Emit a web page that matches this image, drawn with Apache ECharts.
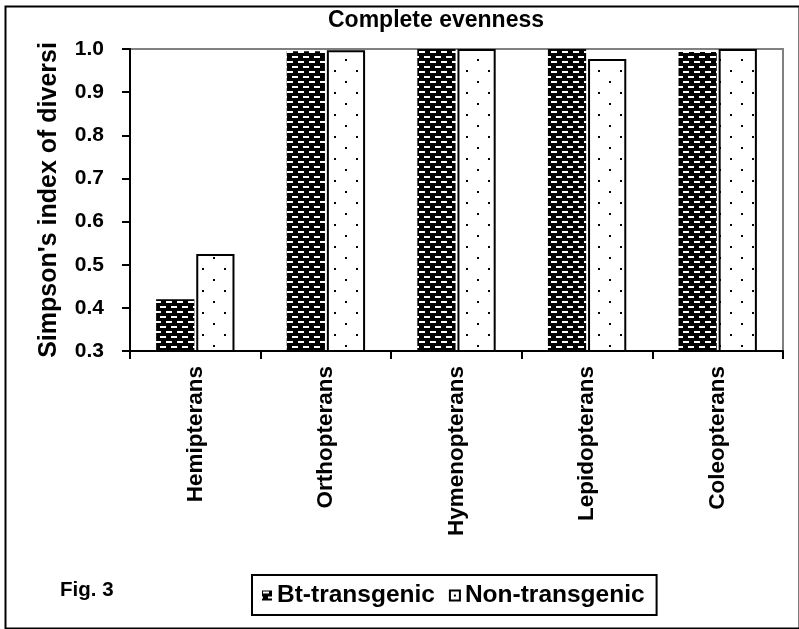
<!DOCTYPE html>
<html>
<head>
<meta charset="utf-8">
<script src="https://cdn.jsdelivr.net/npm/echarts@6/dist/echarts.min.js"></script>
<style>
html,body{margin:0;padding:0;background:#fff;}
#chart{width:799px;height:629px;}
</style>
</head>
<body>
<div id="chart"></div>
<script>
var categories = ['Hemipterans', 'Orthopterans', 'Hymenopterans', 'Lepidopterans', 'Coleopterans'];
var btTransgenic = [0.42, 0.995, 1.0, 1.0, 0.993];
var nonTransgenic = [0.525, 0.997, 1.0, 0.977, 1.0];
var yTicks = [0.3, 0.4, 0.5, 0.6, 0.7, 0.8, 0.9, 1.0];

var FONT = '"Liberation Sans", Arial, sans-serif';

function brickPattern() {
  var c = document.createElement('canvas');
  c.width = 11; c.height = 10;
  var g = c.getContext('2d');
  g.fillStyle = '#000'; g.fillRect(0, 0, 11, 10);
  g.fillStyle = '#fff';
  g.fillRect(1, 1, 6, 2);
  g.fillRect(6, 6, 5, 2);
  g.fillRect(0, 6, 1, 2);
  return c;
}
function dotPattern() {
  var c = document.createElement('canvas');
  c.width = 22; c.height = 22;
  var g = c.getContext('2d');
  g.fillStyle = '#fff'; g.fillRect(0, 0, 22, 22);
  g.fillStyle = '#000';
  g.fillRect(4, 4, 2, 2);
  g.fillRect(15, 15, 2, 2);
  return c;
}

var chart = echarts.init(document.getElementById('chart'));
chart.setOption({
  animation: false,
  backgroundColor: '#fff',
  title: {
    text: 'Complete evenness',
    left: 328, top: 9, padding: 0,
    textStyle: {fontFamily: FONT, fontWeight: 'bold', fontSize: 23, color: '#000'}
  },
  legend: {
    left: 252, top: 575,
    itemWidth: 10, itemHeight: 10, itemGap: 14,
    padding: [8, 12, 7, 10],
    borderColor: '#000', borderWidth: 2,
    backgroundColor: '#fff',
    textStyle: {fontFamily: FONT, fontWeight: 'bold', fontSize: 24.5, color: '#000'},
    data: [
      {name: 'Bt-transgenic', icon: 'rect'},
      {name: 'Non-transgenic', icon: 'rect'}
    ]
  },
  grid: {
    left: 130, right: 16, top: 49, bottom: 278,
    show: true, borderColor: '#808080', borderWidth: 2, backgroundColor: '#fff'
  },
  xAxis: {
    type: 'category',
    data: categories,
    axisLine: {lineStyle: {color: '#000', width: 2}},
    axisTick: {show: true, length: 8, lineStyle: {color: '#000', width: 2}},
    axisLabel: {rotate: 90, margin: 15, interval: 0,
      fontFamily: FONT, fontWeight: 'bold', fontSize: 22.5, color: '#000'},
    splitLine: {show: false}
  },
  yAxis: {
    type: 'value',
    min: yTicks[0], max: yTicks[yTicks.length - 1], interval: 0.1,
    name: "Simpson's index of diversity",
    nameLocation: 'middle',
    nameGap: 68,
    nameTruncate: {maxWidth: 318, ellipsis: ''},
    nameTextStyle: {fontFamily: FONT, fontWeight: 'bold', fontSize: 25, color: '#000'},
    axisLine: {show: true, lineStyle: {color: '#000', width: 2}},
    axisTick: {show: true, length: 8, lineStyle: {color: '#000', width: 2}},
    axisLabel: {margin: 26, fontFamily: FONT, fontWeight: 'bold', fontSize: 21, color: '#000',
      formatter: function (v) { return v.toFixed(1); }},
    splitLine: {show: false}
  },
  series: [
    {
      name: 'Bt-transgenic', type: 'bar',
      data: btTransgenic,
      barGap: '5%', barCategoryGap: '40%',
      itemStyle: {color: {image: brickPattern(), repeat: 'repeat'}, borderColor: '#000', borderWidth: 0}
    },
    {
      name: 'Non-transgenic', type: 'bar',
      data: nonTransgenic,
      itemStyle: {color: {image: dotPattern(), repeat: 'repeat'}, borderColor: '#000', borderWidth: 2}
    }
  ],
  graphic: [
    {type: 'rect', left: 3, top: 4, z: -10, silent: true,
      shape: {width: 794, height: 622},
      style: {fill: 'none', stroke: '#000', lineWidth: 2}},
    {type: 'text', left: 60, top: 580,
      style: {text: 'Fig. 3', fontFamily: FONT, fontWeight: 'bold', fontSize: 20.5, fill: '#000'}}
  ]
});
</script>
</body>
</html>
